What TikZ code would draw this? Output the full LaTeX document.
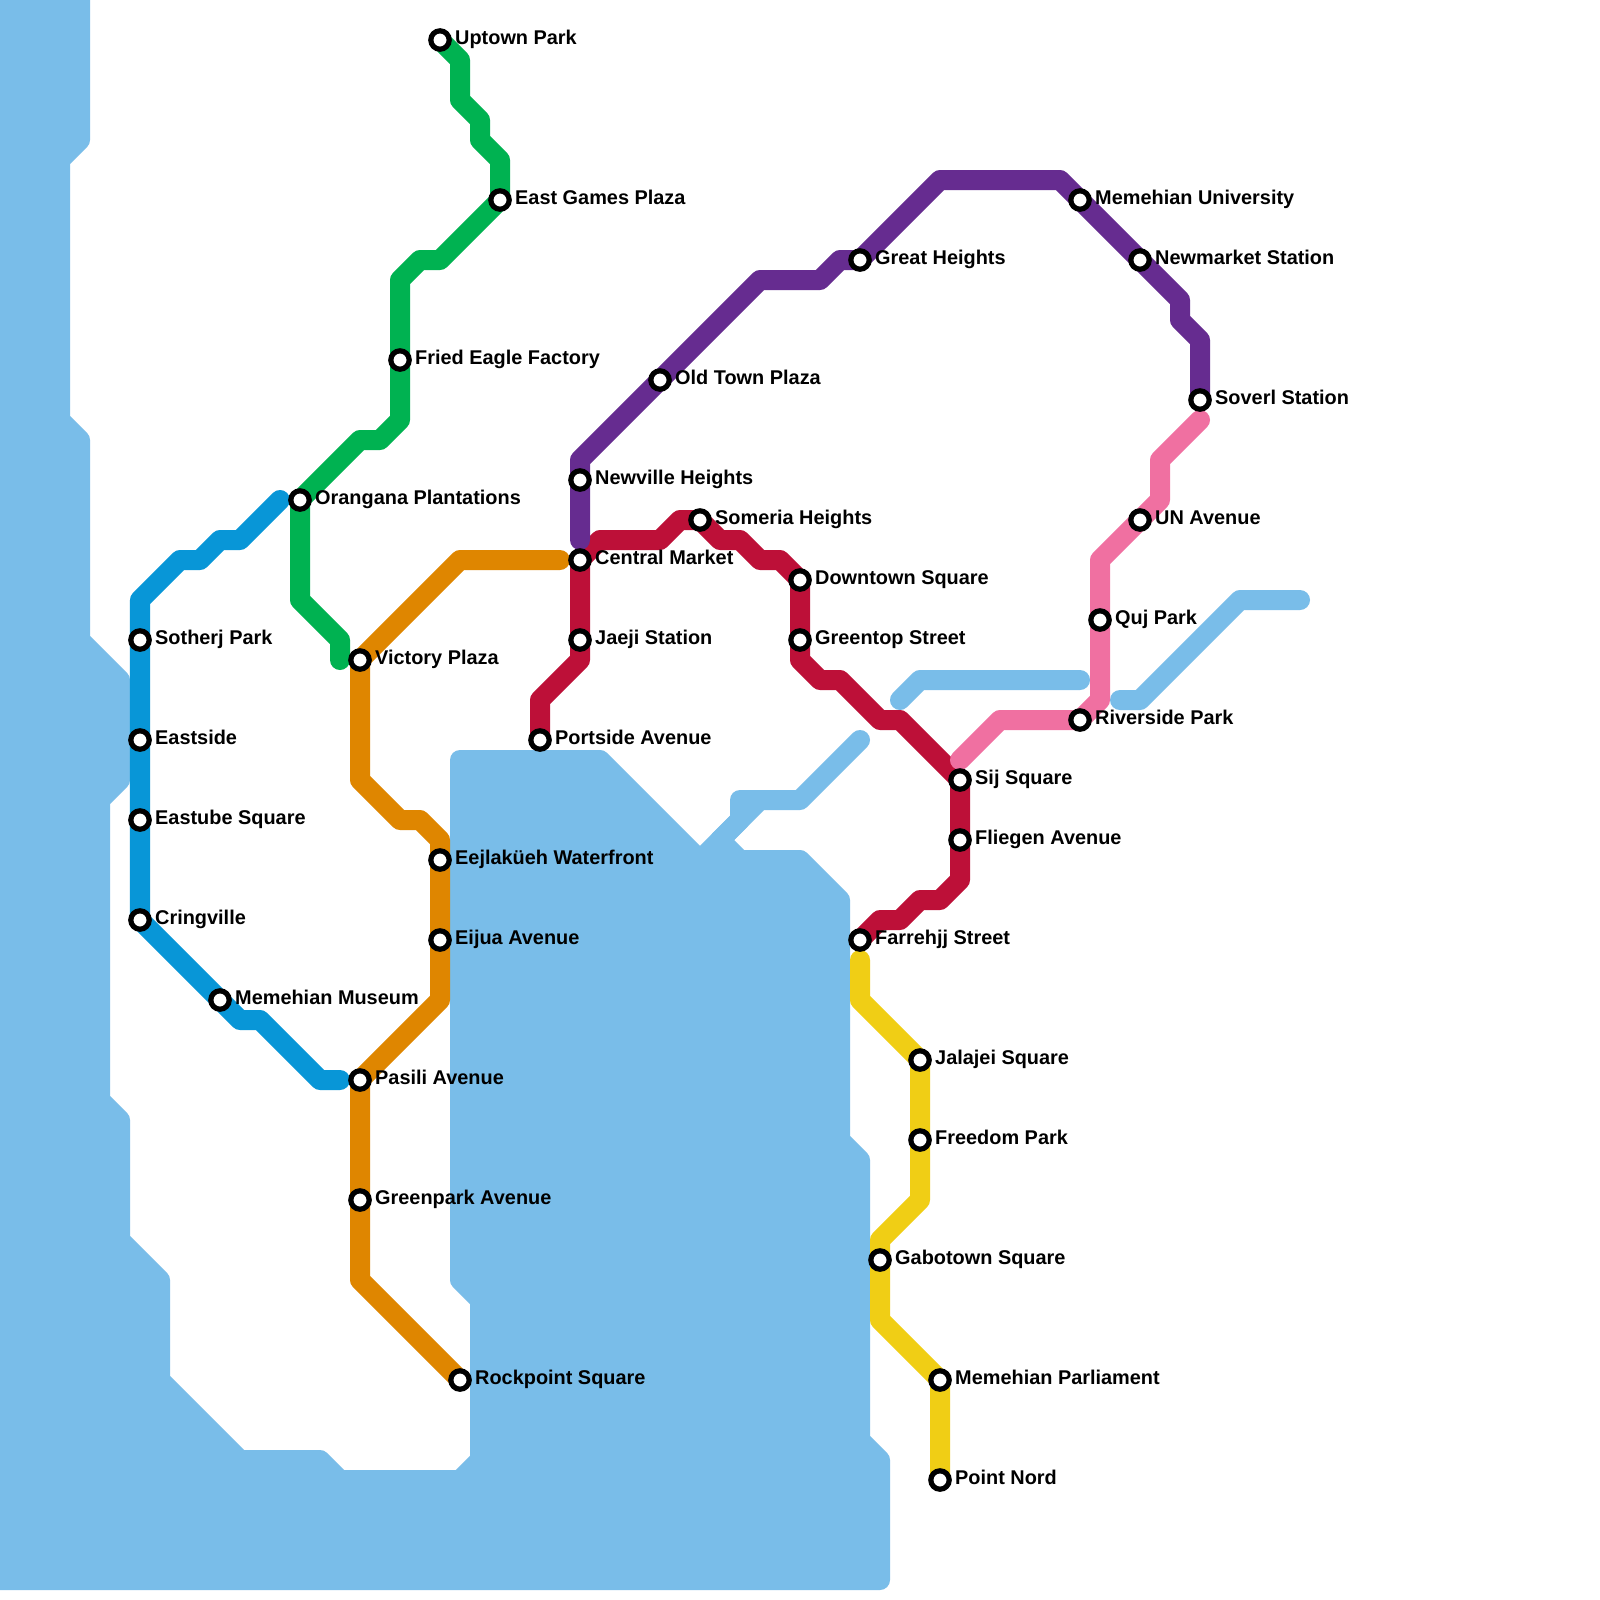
\documentclass[tikz,border=0pt]{standalone}
\usepackage{fontspec}
\setmainfont{Liberation Sans}
\pgfdeclarelayer{lines}
\pgfsetlayers{lines,main}
\definecolor{water}{HTML}{79BDE9}
\definecolor{cblue}{HTML}{0896D7}
\definecolor{cgreen}{HTML}{00B251}
\definecolor{corange}{HTML}{DF8600}
\definecolor{cpurple}{HTML}{662C90}
\definecolor{cred}{HTML}{BD1038}
\definecolor{cpink}{HTML}{F070A1}
\definecolor{cyellow}{HTML}{F0CE15}
\tikzset{
  stn/.style={circle,draw=black,fill=white,line width=0.13cm,minimum size=0.46cm,inner sep=0pt,outer sep=0pt},
  lab/.style={anchor=base west,inner sep=0pt,outer sep=0pt,text=black,font=\fontsize{14.15}{16}\selectfont\bfseries},
  metro/.style={line width=0.5cm,line cap=round,line join=round},
  waterbody/.style={fill=water,draw=water,line width=0.5cm,line cap=round,line join=round},
  waterline/.style={draw=water,line width=0.5cm,line cap=round,line join=round}
}
\newcommand{\stn}[4]{\node[stn] (#1) at (#2,#3) {}; \node[lab] (#1-l) at ([shift={(15.2,4.5)}]#1.center) {#4};}
\begin{document}
\begin{tikzpicture}[x=0.025cm,y=-0.025cm]
\useasboundingbox (0,0) rectangle (1600,1600);
% stations
\stn{uptown}{440}{40}{Uptown Park}
\stn{eastgames}{500}{200}{East Games Plaza}
\stn{friedeagle}{400}{360}{Fried Eagle Factory}
\stn{orangana}{300}{500}{Orangana Plantations}
\stn{sotherj}{140}{640}{Sotherj Park}
\stn{eastside}{140}{740}{Eastside}
\stn{eastube}{140}{820}{Eastube Square}
\stn{cringville}{140}{920}{Cringville}
\stn{museum}{220}{1000}{Memehian Museum}
\stn{victory}{360}{660}{Victory Plaza}
\stn{eejlakueh}{440}{860}{Eejlaküeh Waterfront}
\stn{eijua}{440}{940}{Eijua Avenue}
\stn{pasili}{360}{1080}{Pasili Avenue}
\stn{greenpark}{360}{1200}{Greenpark Avenue}
\stn{rockpoint}{460}{1380}{Rockpoint Square}
\stn{newville}{580}{480}{Newville Heights}
\stn{oldtown}{660}{380}{Old Town Plaza}
\stn{greatheights}{860}{260}{Great Heights}
\stn{university}{1080}{200}{Memehian University}
\stn{newmarket}{1140}{260}{Newmarket Station}
\stn{soverl}{1200}{400}{Soverl Station}
\stn{portside}{540}{740}{Portside Avenue}
\stn{central}{580}{560}{Central Market}
\stn{jaeji}{580}{640}{Jaeji Station}
\stn{someria}{700}{520}{Someria Heights}
\stn{downtown}{800}{580}{Downtown Square}
\stn{greentop}{800}{640}{Greentop Street}
\stn{sij}{960}{780}{Sij Square}
\stn{fliegen}{960}{840}{Fliegen Avenue}
\stn{farrehjj}{860}{940}{Farrehjj Street}
\stn{un}{1140}{520}{UN Avenue}
\stn{quj}{1100}{620}{Quj Park}
\stn{riverside}{1080}{720}{Riverside Park}
\stn{jalajei}{920}{1060}{Jalajei Square}
\stn{freedom}{920}{1140}{Freedom Park}
\stn{gabotown}{880}{1260}{Gabotown Square}
\stn{parliament}{940}{1380}{Memehian Parliament}
\stn{pointnord}{940}{1480}{Point Nord}
% free ends
\coordinate (blueA) at (280,500);
\coordinate (blueB) at (340,1080);
\coordinate (greenEnd) at (340,660);
\coordinate (orangeEnd) at (560,560);
\coordinate (purpleEnd) at (580,540);
\coordinate (pinkA) at (1200,420);
\coordinate (pinkB) at (960,760);
\coordinate (yellowEnd) at (860,960);
\coordinate (wA1) at (900,700);
\coordinate (wA2) at (1080,680);
\coordinate (wB1) at (1120,700);
\coordinate (wB2) at (1300,600);
\coordinate (wC1) at (860,740);
\coordinate (wC2) at (720,840);
\coordinate (wC3) at (760,800);
\begin{pgfonlayer}{lines}
\fill[white] (0,0) rectangle (1600,1600);
\begin{scope}
\clip (0,0) rectangle (1600,1600);
\path[waterbody] (80,-20) -- (80,140) -- (60,160) -- (60,420) -- (80,440) -- (80,640) -- (120,680) -- (120,780) -- (100,800) -- (100,1100) -- (120,1120) -- (120,1240) -- (160,1280) -- (160,1380) -- (240,1460) -- (320,1460) -- (340,1480) -- (460,1480) -- (480,1460) -- (480,1300) -- (460,1280) -- (460,760) -- (600,760) -- (700,860) -- (720,840) -- (740,860) -- (800,860) -- (840,900) -- (840,1140) -- (860,1160) -- (860,1440) -- (880,1460) -- (880,1580) -- (-20,1580) -- (-20,-20) -- cycle;
\end{scope}
\draw[waterline] (wA1) -- (920,680) -- (wA2);
\draw[waterline] (wB1) -- (1140,700) -- (1240,600) -- (wB2);
\draw[waterline] (wC1) -- (800,800) -- (wC3) -- (wC2);
\draw[waterline] (wC3) -- (740,800) -- (740,820) -- (wC2);
\draw[metro,cred] (portside.center) -- (540,700) -- (580,660) -- (jaeji.center) -- (central.center) -- (600,540) -- (660,540) -- (680,520) -- (someria.center) -- (720,540) -- (740,540) -- (760,560) -- (780,560) -- (downtown.center) -- (greentop.center) -- (800,660) -- (820,680) -- (840,680) -- (880,720) -- (900,720) -- (sij.center) -- (fliegen.center) -- (960,880) -- (940,900) -- (920,900) -- (900,920) -- (880,920) -- (farrehjj.center);
\draw[metro,cblue] (blueA) -- (240,540) -- (220,540) -- (200,560) -- (180,560) -- (140,600) -- (sotherj.center) -- (eastside.center) -- (eastube.center) -- (cringville.center) -- (museum.center) -- (240,1020) -- (260,1020) -- (320,1080) -- (blueB);
\draw[metro,cgreen] (uptown.center) -- (460,60) -- (460,100) -- (480,120) -- (480,140) -- (500,160) -- (eastgames.center) -- (440,260) -- (420,260) -- (400,280) -- (friedeagle.center) -- (400,420) -- (380,440) -- (360,440) -- (orangana.center) -- (300,600) -- (340,640) -- (greenEnd);
\draw[metro,corange] (orangeEnd) -- (460,560) -- (victory.center) -- (360,780) -- (400,820) -- (420,820) -- (440,840) -- (eejlakueh.center) -- (eijua.center) -- (440,1000) -- (pasili.center) -- (greenpark.center) -- (360,1280) -- (rockpoint.center);
\draw[metro,cpurple] (purpleEnd) -- (newville.center) -- (580,460) -- (oldtown.center) -- (760,280) -- (820,280) -- (840,260) -- (greatheights.center) -- (940,180) -- (1060,180) -- (university.center) -- (newmarket.center) -- (1180,300) -- (1180,320) -- (1200,340) -- (soverl.center);
\draw[metro,cpink] (pinkA) -- (1160,460) -- (1160,500) -- (un.center) -- (1100,560) -- (quj.center) -- (1100,700) -- (riverside.center) -- (1000,720) -- (pinkB);
\draw[metro,cyellow] (yellowEnd) -- (860,1000) -- (jalajei.center) -- (freedom.center) -- (920,1200) -- (880,1240) -- (gabotown.center) -- (880,1320) -- (parliament.center) -- (pointnord.center);
\end{pgfonlayer}
\end{tikzpicture}
\end{document}
